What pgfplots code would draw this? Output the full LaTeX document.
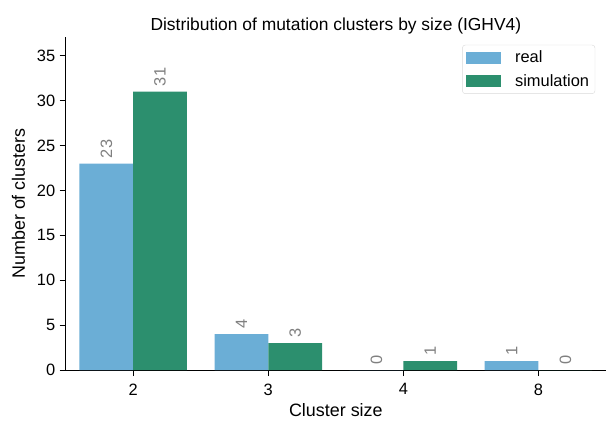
\documentclass[border=0pt]{standalone}
\usepackage{pgfplots}
\pgfplotsset{compat=1.18}
\usepackage{fontspec}
\setmainfont{Liberation Sans}
\definecolor{realc}{HTML}{6BAED6}
\definecolor{simc}{HTML}{2C8F6E}
\begin{document}
\begin{tikzpicture}
\begin{axis}[
name=ax,
scale only axis,
width=543pt, height=335pt,
ybar=0pt,
bar width=54pt,
xmin=-0.5, xmax=3.5,
ymin=0, ymax=37.1,
xtick=data,
xticklabels={2,3,4,8},
ytick={0,5,...,35},
axis x line*=bottom,
axis y line*=left,
axis line style={line width=1.2pt},
tick style={line width=1.2pt, black},
tick align=outside,
major tick length=6pt,
/pgf/number format/assume math mode=true,
tick label style={font=\fontsize{16.5}{18}\selectfont},
label style={font=\fontsize{18}{20}\selectfont},
title style={font=\fontsize{17.5}{20}\selectfont, yshift=-7pt},
title={Distribution of mutation clusters by size (IGHV4)},
xlabel={Cluster size},
ylabel={Number of clusters},
xticklabel style={yshift=-4pt},
yticklabel style={xshift=-1pt},
xlabel style={yshift=-1pt},
ylabel style={yshift=5pt},
nodes near coords,
every node near coord/.append style={rotate=90, anchor=west, text=black!50, font=\fontsize{16.5}{18}\selectfont, xshift=2pt},
legend cell align=left,
legend style={at={(0.98,0.976)}, anchor=north east, draw=black!15, rounded corners=3pt, font=\fontsize{16.5}{18}\selectfont, inner xsep=4pt, inner ysep=4pt, row sep=6pt},
legend image code/.code={\fill[#1, sharp corners] (0pt,-6pt) rectangle (35pt,6pt); \path (47pt,0pt);},
]
\addplot[fill=realc, draw=none] coordinates {(0,23) (1,4) (2,0) (3,1)};
\addplot[fill=simc, draw=none] coordinates {(0,31) (1,3) (2,1) (3,0)};
\legend{real, simulation}
\end{axis}
\pgfresetboundingbox
\path ([shift={(-66pt,-51pt)}]ax.south west) rectangle ([shift={(3pt,37pt)}]ax.north east);
\end{tikzpicture}
\end{document}
